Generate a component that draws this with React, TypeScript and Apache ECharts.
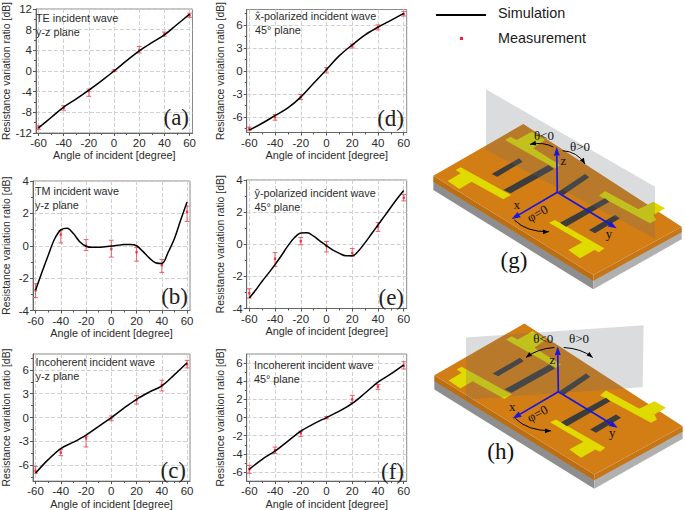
import React, { useEffect, useRef } from "react";
import * as echarts from "echarts";

const measuredAngles = [-60, -40, -20, 0, 20, 40, 60];
const xMajorTicks = [-60, -40, -20, 0, 20, 40, 60];
const xMinorTicks = [-50, -30, -10, 10, 30, 50];
const coarseAngles = [-60, -50, -40, -30, -20, -10, 0, 10, 20, 30, 40, 50, 60];
const fineAngles = [-60, -55, -50, -45, -40, -35, -30, -25, -20, -15, -10, -5, 0, 5, 10, 15, 20, 25, 30, 35, 40, 45, 50, 55, 60];

// (a) TE, y-z plane
const curveA = [-11, -9, -7, -5.4, -3.7, -1.9, 0, 2, 3.9, 5.5, 7, 9, 11];
const meanA = [-11, -7.1, -3.9, 0.1, 4, 7.2, 10.8];
const lowA = [-11.3, -7.6, -4.9, -0.1, 3.5, 6.75, 10.4];
const highA = [-10.6, -6.7, -3.5, 0.2, 4.75, 7.55, 11.2];
const yTicksA = [-12, -8, -4, 0, 4, 8, 12];
const yMinorA = [-10, -6, -2, 2, 6, 10];

// (b) TM, y-z plane
const curveB = [-2.75, -1.65, -0.6, 0.4, 0.98, 1.08, 0.75, 0.25, -0.03, -0.1, -0.1, -0.06, -0.02, 0.03, 0.07, 0.08, 0, -0.35, -0.75, -1.05, -1.1, -0.4, 0.45, 1.6, 2.7];
const meanB = [-2.75, 0.7, 0, -0.2, -0.4, -1.2, 2.1];
const lowB = [-3.2, 0.17, -0.3, -0.7, -0.95, -1.65, 1.5];
const highB = [-2.35, 0.95, 0.38, 0.34, -0.1, -0.85, 2.45];
const yTicksB = [-4, -2, 0, 2, 4];
const yMinorB = [-3, -1, 1, 3];

// (c) Incoherent, y-z plane
const curveC = [-7, -5.3, -3.9, -3.1, -2.2, -1.1, 0, 1.2, 2.3, 3.2, 4, 5.4, 6.9];
const meanC = [-6.7, -4.4, -2.6, -0.1, 2.2, 4.1, 6.7];
const lowC = [-7, -4.8, -3.7, -0.4, 1.7, 3.35, 6.25];
const highC = [-6.15, -4, -2.35, 0.2, 2.75, 4.7, 7.2];
const yTicksC = [-6, -3, 0, 3, 6];
const yMinorC = [-7.5, -4.5, -1.5, 1.5, 4.5, 7.5];

// (d) x-polarized, 45 deg plane
const curveD = [-7.7, -6.8, -5.8, -4.8, -3.4, -1.6, 0.2, 2, 3.4, 4.7, 5.7, 6.6, 7.5];
const meanD = [-7.5, -6, -3.4, 0.2, 3.3, 5.7, 7.4];
const lowD = [-7.7, -6.4, -3.7, -0.25, 3, 5.35, 7.15];
const highD = [-7.3, -5.65, -3.05, 0.45, 3.5, 6, 7.75];

// (e) y-polarized, 45 deg plane
const curveE = [-3.35, -2.85, -2.3, -1.8, -1.27, -0.7, -0.1, 0.4, 0.7, 0.72, 0.5, 0.2, -0.1, -0.37, -0.57, -0.72, -0.72, -0.4, 0.1, 0.65, 1.2, 1.75, 2.3, 2.85, 3.35];
const meanE = [-3.05, -0.9, 0.2, -0.1, -0.55, 1.1, 2.9];
const lowE = [-3.35, -1.37, -0.04, -0.48, -0.75, 0.8, 2.7];
const highE = [-2.77, -0.52, 0.42, 0.17, -0.27, 1.35, 3.1];

// (f) Incoherent, 45 deg plane
const curveF = [-5.7, -4.6, -3.7, -2.6, -1.5, -0.7, 0, 0.7, 1.55, 2.7, 3.9, 4.8, 5.8];
const meanF = [-5.7, -3.6, -1.7, 0, 2, 3.4, 5.7];
const lowF = [-6.15, -3.95, -2.1, -0.15, 1.65, 3.1, 5.35];
const highF = [-5.27, -3.25, -1.5, 0.1, 2.45, 3.65, 6.15];
const yTicksF = [-6, -4, -2, 0, 2, 4, 6];
const yMinorF = [-5, -3, -1, 1, 3, 5];

const xName = "Angle of incident [degree]";
const yName = "Resistance variation ratio [dB]";
const SANS = "Liberation Sans";
const SERIF = "Liberation Serif";
const RED = "#ee4f5b";
const TXT = "#2b2b2b";

const panels = [
  { tag: "(a)", l1: "TE incident wave", l2: "y-z plane", a: coarseAngles, c: curveA, m: meanA, lo: lowA, hi: highA, yt: yTicksA, ym: yMinorA, yr: 12,
    box: [32.5, 4.5, 160, 128.5], gap: 25, t: [36, 18, 32], tagAt: [189, 117] },
  { tag: "(b)", l1: "TM incident wave", l2: "y-z plane", a: fineAngles, c: curveB, m: meanB, lo: lowB, hi: highB, yt: yTicksB, ym: yMinorB, yr: 4,
    box: [29.5, 181, 160.5, 129.5], gap: 22, t: [35, 190.7, 205], tagAt: [188, 296] },
  { tag: "(c)", l1: "Incoherent incident wave", l2: "y-z plane", a: coarseAngles, c: curveC, m: meanC, lo: lowC, hi: highC, yt: yTicksC, ym: yMinorC, yr: 8,
    box: [29.5, 354, 160.5, 129], gap: 22, t: [35.5, 362, 375.7], tagAt: [186, 470] },
  { tag: "(d)", l1: "x\u0302-polarized incident wave", l2: "45\u00B0 plane", a: coarseAngles, c: curveD, m: meanD, lo: lowD, hi: highD, yt: yTicksC, ym: yMinorC, yr: 8,
    box: [246.7, 4, 160, 128.5], gap: 21, t: [255, 16, 30], tagAt: [404, 118] },
  { tag: "(e)", l1: "y\u0302-polarized incident wave", l2: "45\u00B0 plane", a: fineAngles, c: curveE, m: meanE, lo: lowE, hi: highE, yt: yTicksB, ym: yMinorB, yr: 4,
    box: [246.7, 180, 160, 128.5], gap: 21, t: [254.5, 193, 207], tagAt: [404, 297] },
  { tag: "(f)", l1: "Incoherent incident wave", l2: "45\u00B0 plane", a: coarseAngles, c: curveF, m: meanF, lo: lowF, hi: highF, yt: yTicksF, ym: yMinorF, yr: 7,
    box: [246.7, 354, 160, 129], gap: 21, t: [254, 365, 379], tagAt: [404, 471] },
];

function buildCharts() {
  const grid: any[] = [];
  const xAxis: any[] = [];
  const yAxis: any[] = [];
  const series: any[] = [];
  panels.forEach((p, i) => {
    const [left, top, width, height] = p.box;
    grid.push({ left, top, width, height, show: true, borderColor: "#8a8a8a", borderWidth: 1, backgroundColor: "transparent", containLabel: false });
    const mainIx = i * 2;
    const minorIx = i * 2 + 1;
    xAxis.push({
      type: "value", gridIndex: i, min: -62, max: 62.3, position: "bottom",
      name: xName, nameLocation: "middle", nameGap: 16.5,
      nameTextStyle: { fontFamily: SANS, fontSize: 10.8, color: TXT },
      axisLine: { show: true, onZero: false, lineStyle: { color: "#666" } },
      axisTick: { show: true, length: 3, customValues: xMajorTicks, lineStyle: { color: "#555" } },
      axisLabel: { show: true, customValues: xMajorTicks, margin: 4, fontFamily: SANS, fontSize: 11.5, color: TXT, hideOverlap: false },
      splitLine: { show: true, lineStyle: { type: "dashed", color: "#d0d0d0", width: 1 } },
    });
    xAxis.push({
      type: "value", gridIndex: i, min: -62, max: 62.3, position: "bottom",
      axisLine: { show: false, onZero: false },
      axisTick: { show: true, length: 2, customValues: xMinorTicks, lineStyle: { color: "#555" } },
      axisLabel: { show: false }, splitLine: { show: false },
    });
    yAxis.push({
      type: "value", gridIndex: i, min: -p.yr, max: p.yr, position: "left",
      name: yName, nameLocation: "middle", nameGap: p.gap,
      nameTextStyle: { fontFamily: SANS, fontSize: 10.4, color: TXT },
      axisLine: { show: true, onZero: false, lineStyle: { color: "#666" } },
      axisTick: { show: true, length: 3, customValues: p.yt, lineStyle: { color: "#555" } },
      axisLabel: { show: true, customValues: p.yt, margin: 4, fontFamily: SANS, fontSize: 11.5, color: TXT, hideOverlap: false },
      splitLine: { show: true, lineStyle: { type: "dashed", color: "#d0d0d0", width: 1 } },
    });
    yAxis.push({
      type: "value", gridIndex: i, min: -p.yr, max: p.yr, position: "left",
      axisLine: { show: false, onZero: false },
      axisTick: { show: true, length: 2, customValues: p.ym, lineStyle: { color: "#555" } },
      axisLabel: { show: false }, splitLine: { show: false },
    });
    series.push({
      type: "custom", xAxisIndex: mainIx, yAxisIndex: mainIx, silent: true, clip: false, z: 3,
      data: measuredAngles.map((x, k) => [x, p.lo[k], p.hi[k]]),
      encode: { x: 0, y: [1, 2] },
      renderItem: (_: any, api: any) => {
        const lo = api.coord([api.value(0), api.value(1)]);
        const hi = api.coord([api.value(0), api.value(2)]);
        const st = { stroke: RED, lineWidth: 0.9, fill: "none" };
        const cap = 2.4;
        return {
          type: "group",
          children: [
            { type: "line", shape: { x1: lo[0], y1: lo[1], x2: hi[0], y2: hi[1] }, style: st },
            { type: "line", shape: { x1: lo[0] - cap, y1: lo[1], x2: lo[0] + cap, y2: lo[1] }, style: st },
            { type: "line", shape: { x1: hi[0] - cap, y1: hi[1], x2: hi[0] + cap, y2: hi[1] }, style: st },
          ],
        };
      },
    });
    series.push({
      type: "scatter", xAxisIndex: mainIx, yAxisIndex: mainIx, silent: true, z: 4, symbol: "rect", symbolSize: 2.4,
      itemStyle: { color: "#f0202e" },
      data: measuredAngles.map((x, k) => [x, p.m[k]]),
    });
    series.push({
      type: "line", xAxisIndex: mainIx, yAxisIndex: mainIx, silent: true, z: 5, showSymbol: false, symbol: "none",
      smooth: 0.35, lineStyle: { color: "#000", width: 1.5 },
      data: p.a.map((x, k) => [x, p.c[k]]),
    });
    // secondary axes only carry minor ticks
    series.push({ type: "line", xAxisIndex: minorIx, yAxisIndex: minorIx, silent: true, showSymbol: false, data: [] });
  });
  return { grid, xAxis, yAxis, series };
}

function label(text: string, x: number, y: number, font: string, fill = TXT, align = "left", rotation = 0) {
  return { type: "text", x, y, rotation, silent: true, z: 30, style: { text, font, fill, textAlign: align, textVerticalAlign: "middle" } };
}

function panelTexts() {
  const out: any[] = [];
  panels.forEach((p) => {
    out.push(label(p.l1, p.t[0], p.t[1], `10.8px "${SANS}"`));
    out.push(label(p.l2, p.t[0], p.t[2], `10.8px "${SANS}"`));
    out.push(label(p.tag, p.tagAt[0], p.tagAt[1], `23px "${SERIF}"`, "#222", "right"));
  });
  return out;
}

type Pt = [number, number];

function illustration(dx: number, dy: number, mode: "g" | "h") {
  const P = (x: number, y: number): Pt => [420 + x / 3 + dx, y / 3 + dy];
  const poly = (pts: number[][], fill: string) => ({
    type: "polygon", silent: true, z: 20, shape: { points: pts.map((q) => P(q[0], q[1])) }, style: { fill, stroke: "none" },
  });
  const axis = (a: Pt, b: Pt) => {
    const ang = Math.atan2(b[1] - a[1], b[0] - a[0]);
    const len = 26, w = 9;
    const bx = b[0] - Math.cos(ang) * len, by = b[1] - Math.sin(ang) * len;
    const nx = -Math.sin(ang) * w, ny = Math.cos(ang) * w;
    const A = P(a[0], a[1]), B = P(bx, by);
    return [
      { type: "line", silent: true, z: 22, shape: { x1: A[0], y1: A[1], x2: B[0], y2: B[1] }, style: { stroke: "#1717e0", lineWidth: 1.7 } },
      poly([[b[0], b[1]], [bx + nx, by + ny], [bx - nx, by - ny]], "#1717e0"),
    ].map((e: any) => ({ ...e, z: 22 }));
  };
  const arc = (s: Pt, c: Pt, e: Pt) => {
    const S = P(s[0], s[1]), C = P(c[0], c[1]), E = P(e[0], e[1]);
    const ang = Math.atan2(e[1] - c[1], e[0] - c[0]);
    const bx = e[0] - Math.cos(ang) * 18, by = e[1] - Math.sin(ang) * 18;
    const nx = -Math.sin(ang) * 7, ny = Math.cos(ang) * 7;
    return [
      { type: "bezierCurve", silent: true, z: 23, shape: { x1: S[0], y1: S[1], x2: E[0], y2: E[1], cpx1: C[0], cpy1: C[1] }, style: { stroke: "#000", lineWidth: 1, fill: "none" } },
      { ...poly([[e[0], e[1]], [bx + nx, by + ny], [bx - nx, by - ny]], "#000"), z: 23 },
    ];
  };
  const YEL = "#e0da00";
  const items: any[] = [
    poly([[40, 543], [520, 838], [520, 868], [40, 570]], "#8e8e8e"),
    poly([[520, 838], [785, 693], [785, 718], [520, 868]], "#b0b0b0"),
    poly([[40, 527], [520, 825], [520, 842], [40, 545]], "#bb6f12"),
    poly([[520, 825], [785, 680], [785, 697], [520, 842]], "#c67616"),
    poly([[40, 527], [310, 372], [785, 680], [520, 825]], "#d37d15"),
    poly([[83, 543], [122, 520], [107, 510], [122, 502], [273, 585], [250, 598], [155, 545], [118, 567]], YEL),
    poly([[387, 668], [405, 660], [553, 745], [537, 757], [523, 750], [480, 775], [445, 750], [487, 727]], YEL),
    poly([[537, 587], [555, 573], [655, 628], [700, 605], [735, 625], [700, 645], [708, 660], [690, 670]], YEL),
    poly([[255, 420], [272, 410], [290, 420], [335, 395], [375, 420], [340, 445], [420, 495], [405, 505]], YEL),
    poly([[215, 522], [297, 475], [308, 485], [232, 530]], "#3c3c3c"),
    poly([[250, 570], [385, 495], [402, 507], [272, 580]], "#3c3c3c"),
    poly([[415, 575], [495, 522], [508, 532], [430, 585]], "#3c3c3c"),
    poly([[420, 668], [555, 595], [568, 605], [438, 680]], "#3c3c3c"),
    poly([[507, 690], [585, 645], [600, 655], [525, 700]], "#3c3c3c"),
  ];
  if (mode === "g") {
    items.push(poly([[198, 268], [705, 560], [705, 715], [198, 450]], "rgba(100,110,115,0.24)"));
  } else {
    items.push(poly([[135, 414], [668, 377], [665, 563], [135, 600]], "rgba(100,110,115,0.24)"));
  }
  items.push(...axis([412, 577], [410, 441]));
  items.push(...axis([412, 577], [275, 657]));
  items.push(...axis([412, 577], [590, 685]));
  const serif13 = `13px "${SERIF}"`;
  const put = (t: string, x: number, y: number, font = serif13, rot = 0, align = "center") => {
    const q = P(x, y);
    return label(t, q[0], q[1], font, "#111", align, rot);
  };
  if (mode === "g") {
    items.push(...arc([400, 441], [370, 425], [330, 433]));
    items.push(...arc([428, 452], [472, 455], [495, 492]));
    items.push(...arc([283, 660], [320, 697], [387, 695]));
    items.push(put("\u03B8<0", 372, 407), put("\u03B8>0", 480, 438), put("z", 430, 480), put("x", 290, 613), put("y", 567, 700));
    items.push(put("\u03C6=0", 352, 640, serif13, 0.5));
    items.push(put("(g)", 282, 780, `23px "${SERIF}"`));
  } else {
    items.push(...arc([400, 444], [350, 447], [315, 474]));
    items.push(...arc([428, 444], [482, 447], [515, 474]));
    items.push(...arc([283, 657], [320, 694], [390, 694]));
    items.push(put("\u03B8<0", 367, 417), put("\u03B8>0", 474, 417), put("z", 394, 479), put("x", 274, 622), put("y", 574, 700));
    items.push(put("\u03C6=0", 349, 642, serif13, 0.5));
    items.push(put("(h)", 239, 757, `23px "${SERIF}"`));
  }
  return items;
}

function legendItems() {
  const font = `14.4px "${SANS}"`;
  return [
    { type: "line", silent: true, z: 30, shape: { x1: 436, y1: 15, x2: 486, y2: 15 }, style: { stroke: "#000", lineWidth: 2 } },
    label("Simulation", 498, 12.5, font, "#1a1a1a"),
    { type: "rect", silent: true, z: 30, shape: { x: 460, y: 37, width: 3, height: 3 }, style: { fill: "#f0202e" } },
    label("Measurement", 498, 38, font, "#1a1a1a"),
  ];
}

export default function App() {
  const ref = useRef<HTMLDivElement>(null);
  useEffect(() => {
    document.body.style.margin = "0";
    const chart = echarts.init(ref.current!, undefined, { renderer: "svg" });
    const base = buildCharts();
    chart.setOption({
      animation: false,
      backgroundColor: "#fff",
      tooltip: { show: false },
      ...base,
      graphic: {
        elements: [
          ...panelTexts(),
          ...legendItems(),
          ...illustration(0, 0, "g"),
          ...illustration(1, 199.5, "h"),
        ],
      },
    });
    return () => chart.dispose();
  }, []);
  return <div ref={ref} style={{ width: 685, height: 510 }} />;
}
